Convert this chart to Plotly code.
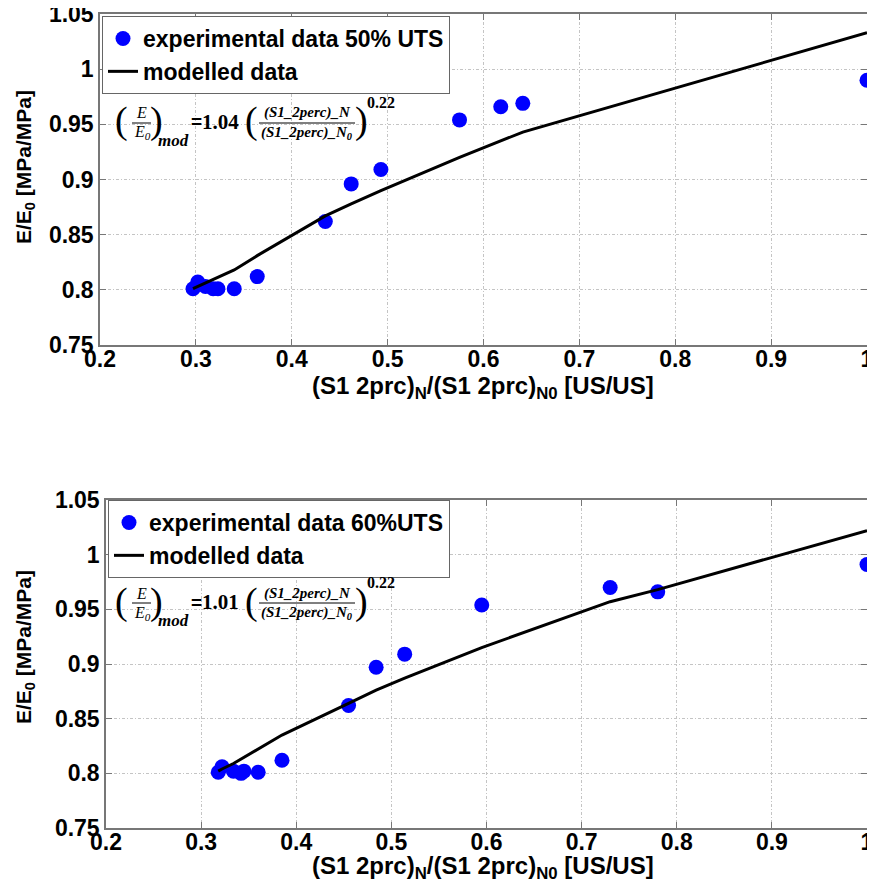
import plotly.graph_objects as go
from plotly.subplots import make_subplots

# ---- data: 50% UTS ----
x50 = [0.297, 0.302, 0.310, 0.318, 0.323, 0.340, 0.364, 0.435, 0.462, 0.493, 0.575, 0.618, 0.641, 1.0]
y50 = [0.801, 0.807, 0.803, 0.801, 0.801, 0.801, 0.812, 0.862, 0.896, 0.909, 0.954, 0.966, 0.969, 0.990]
x50_mod = [0.297, 0.302, 0.310, 0.318, 0.323, 0.340, 0.364, 0.435, 0.462, 0.493, 0.575, 0.618, 0.641, 1.0]
y50_mod = [0.801, 0.803, 0.806, 0.809, 0.811, 0.818, 0.831, 0.867, 0.878, 0.890, 0.920, 0.935, 0.943, 1.033]

# ---- data: 60% UTS ----
x60 = [0.318, 0.322, 0.334, 0.342, 0.345, 0.360, 0.385, 0.455, 0.484, 0.514, 0.595, 0.730, 0.780, 1.0]
y60 = [0.801, 0.806, 0.802, 0.800, 0.802, 0.801, 0.812, 0.862, 0.897, 0.909, 0.954, 0.970, 0.966, 0.991]
x60_mod = [0.318, 0.322, 0.334, 0.342, 0.345, 0.360, 0.385, 0.455, 0.484, 0.514, 0.595, 0.730, 0.780, 1.0]
y60_mod = [0.802, 0.804, 0.809, 0.813, 0.815, 0.822, 0.835, 0.864, 0.876, 0.887, 0.915, 0.957, 0.968, 1.022]

coef = ["1.04", "1.01"]
exp_txt = "0.22"
leg_names = ["experimental data 50% UTS", "experimental data 60%UTS"]
xticks = [0.2, 0.3, 0.4, 0.5, 0.6, 0.7, 0.8, 0.9, 1.0]
xtick_txt = ["0.2", "0.3", "0.4", "0.5", "0.6", "0.7", "0.8", "0.9", "1"]
yticks = [0.75, 0.8, 0.85, 0.9, 0.95, 1.0, 1.05]
ytick_txt = ["0.75", "0.8", "0.85", "0.9", "0.95", "1", "1.05"]
xtitle = "(S1 2prc)<sub>N</sub>/(S1 2prc)<sub>N0</sub> [US/US]"
ytitle = "E/E<sub>0</sub> [MPa/MPa]"

# page body has an 8px margin: the figure is drawn from (8, 8) of the window
OFF = 8
W, H = 875 - OFF, 892 - OFF
ML, MR, MT, MB = 100 - OFF, 8, 14 - OFF, 892 - 828
PW, PH = W - ML - MR, H - MT - MB

def px(xr):
    # reference-window pixel x -> paper fraction
    return (xr - OFF - ML) / PW

def py(yr):
    # reference-window pixel y -> paper fraction
    return (H - MB - (yr - OFF)) / PH

fig = make_subplots(rows=2, cols=1)

SANS = "Liberation Sans"
SERIF = "Liberation Serif"
BLUE = "#0000ff"

fig.add_trace(go.Scatter(x=x50, y=y50, mode="markers", name=leg_names[0],
                         marker=dict(color=BLUE, size=15), legend="legend"), row=1, col=1)
fig.add_trace(go.Scatter(x=x50_mod, y=y50_mod, mode="lines", name="modelled data",
                         line=dict(color="black", width=3), legend="legend"), row=1, col=1)
fig.add_trace(go.Scatter(x=x60, y=y60, mode="markers", name=leg_names[1],
                         marker=dict(color=BLUE, size=15), legend="legend2"), row=2, col=1)
fig.add_trace(go.Scatter(x=x60_mod, y=y60_mod, mode="lines", name="modelled data",
                         line=dict(color="black", width=3), legend="legend2"), row=2, col=1)

tickfont = dict(family=SANS, size=23, color="black", weight="bold")
axis_common = dict(showline=True, linecolor="#777", linewidth=1.5, mirror="ticks",
                   ticks="inside", ticklen=6, tickcolor="#777", automargin=False,
                   ticklabeloverflow="allow",
                   showgrid=True, gridcolor="#c4c4c4", gridwidth=1, griddash="3px,2px,1px,2px",
                   zeroline=False, tickfont=tickfont)

fig.update_layout(
    width=W, height=H, margin=dict(l=ML, r=MR, t=MT, b=MB),
    paper_bgcolor="white", plot_bgcolor="white",
    xaxis=dict(domain=[0, 1], range=[0.2, 1.0], tickvals=xticks, ticktext=xtick_txt,
               ticklabelstandoff=-7, **axis_common),
    yaxis=dict(domain=[py(345), 1.0], range=[0.75, 1.05], tickvals=yticks, ticktext=ytick_txt, **axis_common),
    xaxis2=dict(domain=[px(106), 1], range=[0.2, 1.0], tickvals=xticks, ticktext=xtick_txt,
                ticklabelstandoff=-7, **axis_common),
    yaxis2=dict(domain=[0, py(500)], range=[0.75, 1.05], tickvals=yticks, ticktext=ytick_txt, **axis_common),
    legend=dict(x=px(102), y=py(16), xanchor="left", yanchor="top",
                bordercolor="#666", borderwidth=1, bgcolor="white",
                font=dict(family=SANS, size=23, color="black", weight="bold"),
                itemwidth=30, tracegroupgap=0),
    legend2=dict(x=px(108), y=py(500), xanchor="left", yanchor="top",
                 bordercolor="#666", borderwidth=1, bgcolor="white",
                 font=dict(family=SANS, size=23, color="black", weight="bold"),
                 itemwidth=30, tracegroupgap=0),
    showlegend=True,
)

# ---- axis titles ----
for dy in (0, 480):
    fig.add_annotation(x=px(483), y=py(387 + dy), xref="paper", yref="paper", text=xtitle,
                       showarrow=False, xanchor="center", yanchor="middle",
                       font=dict(family=SANS, size=24, color="black", weight="bold"))
    fig.add_annotation(x=px(25), y=py(167 + dy), xref="paper", yref="paper", text=ytitle,
                       showarrow=False, xanchor="center", yanchor="middle", textangle=-90,
                       font=dict(family=SANS, size=21, color="black", weight="bold"))

# ---- formula annotations (built from text pieces) ----
def formula(dy, c):
    def ann(x, y, text, size, family=SERIF, italic=False, bold=False, xanchor="center"):
        t = text
        if italic:
            t = "<i>" + t + "</i>"
        if bold:
            t = "<b>" + t + "</b>"
        fig.add_annotation(x=px(x), y=py(y + dy), xref="paper", yref="paper", text=t,
                           showarrow=False, xanchor=xanchor, yanchor="middle",
                           font=dict(family=family, size=size, color="black"))

    def hline(x0, x1, y):
        fig.add_shape(type="line", xref="paper", yref="paper", x0=px(x0), x1=px(x1),
                      y0=py(y + dy), y1=py(y + dy), line=dict(color="black", width=1))

    ann(121, 121, "(", 38)
    ann(141, 113, "E", 16, italic=True)
    hline(132, 151, 123)
    ann(142, 133, "E<sub>0</sub>", 16, italic=True)
    ann(156, 121, ")", 38)
    ann(173, 140, "mod", 17, italic=True, bold=True)
    ann(189, 122, "=", 19, family=SANS, bold=True, xanchor="left")
    ann(200, 122, c, 21, bold=True, xanchor="left")
    ann(251, 121, "(", 38)
    ann(307, 113, "(S1_2perc)_N", 15, italic=True, bold=True)
    hline(259, 355, 123)
    ann(307, 133, "(S1_2perc)_N<sub>0</sub>", 15, italic=True, bold=True)
    ann(361, 121, ")", 38)
    ann(381, 102, exp_txt, 16, bold=True)

formula(0, coef[0])
formula(480, coef[1])

fig.write_html("out.html")
